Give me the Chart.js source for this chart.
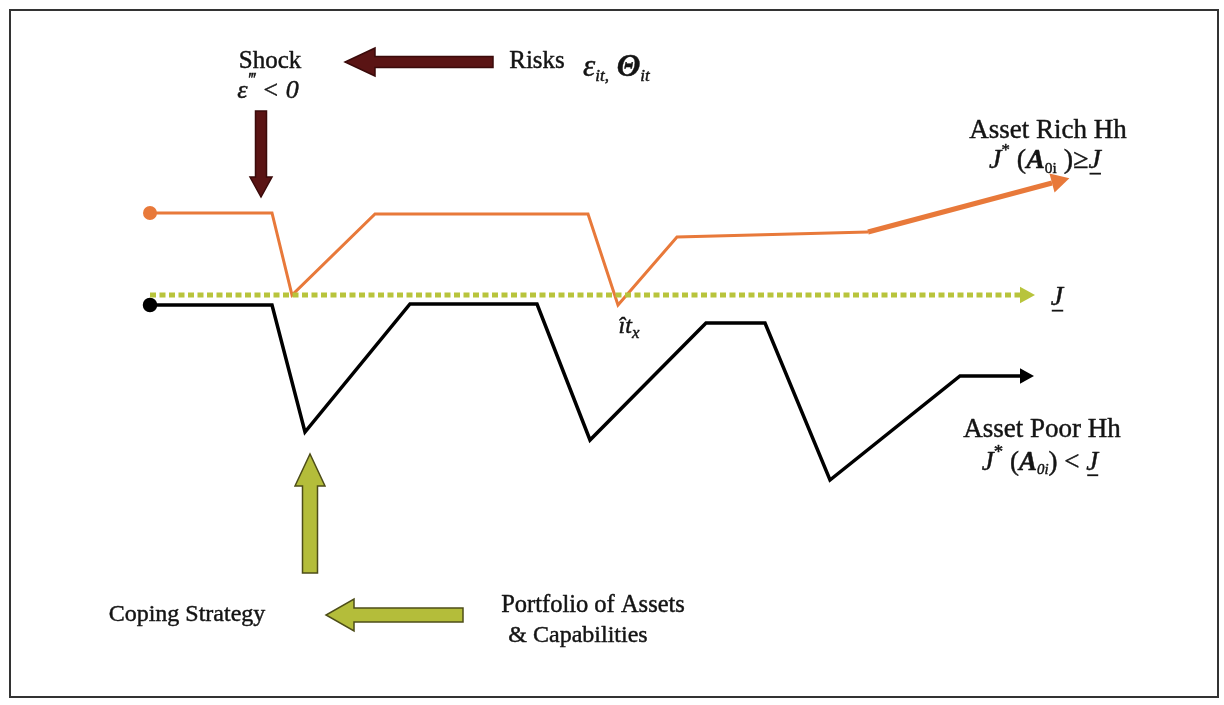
<!DOCTYPE html>
<html><head><meta charset="utf-8">
<script src="https://cdn.jsdelivr.net/npm/chart.js@4/dist/chart.umd.min.js"></script>
<style>html,body{margin:0;padding:0;background:#fff}#wrap{width:1224px;height:705px;position:relative}</style>
</head><body><div id="wrap"><canvas id="c"></canvas></div>
<script>
// Time (t) and welfare (w) values; threshold J at w = 0
const richTime = [0, 12.2, 14.2, 22.5, 43.8, 46.8, 52.7, 71.8];
const richWelfare = [8.2, 8.2, 0, 8.1, 8.1, -1.0, 5.8, 6.3];
const richTrendTime = [71.8, 90.2];
const richTrendWelfare = [6.3, 11.2];
const poorTime = [0, 12.2, 15.5, 26, 38.7, 44, 55.6, 61.5, 68, 81, 87];
const poorWelfare = [-1.0, -1.0, -13.7, -0.9, -0.9, -14.5, -2.8, -2.8, -18.5, -8.1, -8.1];
const thresholdTime = [0, 87];
const thresholdWelfare = [0, 0];

const pts = (xs, ys) => xs.map((x, i) => ({x, y: ys[i]}));

const MAROON = '#5a1414', OLIVE = '#b4bd3a', ORANGE = '#e8793a';
const blockArrows = [
  {from: [34.3, 23.3], to: [19.5, 23.3], fill: MAROON, edge: '#3a0a0a', body: 11, headW: 28, headL: 30},
  {from: [11.1, 18.4], to: [11.1, 9.8], fill: MAROON, edge: '#3a0a0a', body: 11, headW: 22, headL: 20},
  {from: [16, -27.8], to: [16, -15.9], fill: OLIVE, edge: '#4d4d18', body: 15, headW: 30, headL: 32},
  {from: [31.3, -32], to: [17.6, -32], fill: OLIVE, edge: '#4d4d18', body: 14, headW: 32, headL: 28}
];

const F = 'Liberation Serif, Times New Roman, serif';
const texts = [
  {at: [12.0, 23.4], size: 25, segs: [{t: 'Shock'}]},
  {at: [11.8, 20.4], size: 26, segs: [{t: 'ε', i: 1}, {t: '‴', i: 1, sup: 1, sc: 0.7}, {t: ' < 0', i: 1}]},
  {at: [38.7, 23.4], size: 25, segs: [{t: 'Risks'}]},
  {at: [43.3, 22.7], size: 31, align: 'left', segs: [{t: 'ε', i: 1}, {t: 'it,', i: 1, sub: 1, sc: 0.55}, {t: ' Θ', i: 1, b: 1}, {t: 'it', i: 1, sub: 1, sc: 0.55}]},
  {at: [89.8, 16.4], size: 27, segs: [{t: 'Asset Rich Hh'}]},
  {at: [89.5, 13.4], size: 28, segs: [{t: 'J', i: 1}, {t: '*', sup: 1, sc: 0.6}, {t: ' ('}, {t: 'A', i: 1, b: 1}, {t: '0i', sub: 1, sc: 0.55}, {t: ' )≥'}, {t: 'J', i: 1, u: 1}]},
  {at: [90.7, -0.3], size: 28, segs: [{t: 'J', i: 1, u: 1}]},
  {at: [47.9, -3.2], size: 24, segs: [{t: 'ît', i: 1}, {t: 'x', i: 1, sub: 1, sc: 0.7}]},
  {at: [89.2, -13.5], size: 27, segs: [{t: 'Asset Poor Hh'}]},
  {at: [89.0, -16.8], size: 27, segs: [{t: 'J', i: 1}, {t: '*', sup: 1, sc: 0.7}, {t: ' ('}, {t: 'A', i: 1, b: 1}, {t: '0i', sub: 1, i: 1, sc: 0.55}, {t: ') < '}, {t: 'J', i: 1, u: 1}]},
  {at: [3.7, -32.0], size: 24, segs: [{t: 'Coping Strategy'}]},
  {at: [44.3, -31.1], size: 24.5, segs: [{t: 'Portfolio of Assets'}]},
  {at: [42.8, -34.1], size: 24, segs: [{t: '& Capabilities'}]}
];

function fontOf(s, size) {
  const sz = size * (s.sc || 1);
  return (s.i ? 'italic ' : '') + (s.b ? 'bold ' : '') + sz + 'px ' + F;
}
function drawRich(ctx, x, y, segs, size, align) {
  const ws = segs.map(s => { ctx.font = fontOf(s, size); return ctx.measureText(s.t).width; });
  const total = ws.reduce((a, b) => a + b, 0);
  let cx = align === 'left' ? x : x - total / 2;
  segs.forEach((s, i) => {
    ctx.font = fontOf(s, size);
    const dy = s.sub ? size * 0.28 : s.sup ? -size * 0.38 : 0;
    ctx.fillText(s.t, cx, y + dy);
    ctx.strokeText(s.t, cx, y + dy);
    if (s.u) { ctx.fillRect(cx + 1, y + size * 0.42, ws[i] - 1, 1.8); }
    cx += ws[i];
  });
}
function drawBlockArrow(ctx, a, xs, ys) {
  const x1 = xs.getPixelForValue(a.from[0]), y1 = ys.getPixelForValue(a.from[1]);
  const x2 = xs.getPixelForValue(a.to[0]), y2 = ys.getPixelForValue(a.to[1]);
  const len = Math.hypot(x2 - x1, y2 - y1), ux = (x2 - x1) / len, uy = (y2 - y1) / len;
  const nx = -uy, ny = ux;
  const bx = x2 - ux * a.headL, by = y2 - uy * a.headL;
  const b = a.body / 2, h = a.headW / 2;
  ctx.beginPath();
  ctx.moveTo(x1 + nx * b, y1 + ny * b);
  ctx.lineTo(bx + nx * b, by + ny * b);
  ctx.lineTo(bx + nx * h, by + ny * h);
  ctx.lineTo(x2, y2);
  ctx.lineTo(bx - nx * h, by - ny * h);
  ctx.lineTo(bx - nx * b, by - ny * b);
  ctx.lineTo(x1 - nx * b, y1 - ny * b);
  ctx.closePath();
  ctx.fillStyle = a.fill; ctx.fill();
  ctx.lineWidth = 1.5; ctx.strokeStyle = a.edge; ctx.lineJoin = 'miter'; ctx.stroke();
}

const diagramPlugin = {
  id: 'diagram',
  afterDatasetsDraw(chart) {
    const ctx = chart.ctx, xs = chart.scales.x, ys = chart.scales.y;
    ctx.save();
    chart.data.datasets.forEach((ds, di) => {
      if (!ds.arrowHead) return;
      const meta = chart.getDatasetMeta(di).data;
      const p = meta[meta.length - 1], q = meta[meta.length - 2];
      const len = Math.hypot(p.x - q.x, p.y - q.y), ux = (p.x - q.x) / len, uy = (p.y - q.y) / len;
      const L = ds.arrowHead, W = L * 0.55;
      ctx.beginPath();
      ctx.moveTo(p.x + ux * L, p.y + uy * L);
      ctx.lineTo(p.x - uy * W, p.y + ux * W);
      ctx.lineTo(p.x + uy * W, p.y - ux * W);
      ctx.closePath();
      ctx.fillStyle = ds.borderColor; ctx.fill();
    });
    blockArrows.forEach(a => drawBlockArrow(ctx, a, xs, ys));
    ctx.fillStyle = '#141414';
    ctx.strokeStyle = '#141414';
    ctx.lineWidth = 0.45;
    ctx.lineJoin = 'round';
    ctx.textBaseline = 'middle';
    ctx.textAlign = 'left';
    texts.forEach(tx => drawRich(ctx, xs.getPixelForValue(tx.at[0]), ys.getPixelForValue(tx.at[1]), tx.segs, tx.size, tx.align));
    ctx.strokeStyle = '#333'; ctx.lineWidth = 2; ctx.lineJoin = 'miter';
    ctx.strokeRect(10, 10, 1208, 687);
    ctx.restore();
  }
};

new Chart(document.getElementById('c'), {
  type: 'scatter',
  data: {
    datasets: [
      {label: 'Threshold J', data: pts(thresholdTime, thresholdWelfare), showLine: true, borderColor: '#b8c43c',
        borderWidth: 5, borderDash: [6, 3.5], borderCapStyle: 'butt', pointRadius: 0, arrowHead: 15},
      {label: 'Asset Rich Hh', data: pts(richTime, richWelfare), showLine: true, borderColor: ORANGE, backgroundColor: ORANGE,
        borderWidth: 3, pointRadius: c => c.dataIndex === 0 ? 5.5 : 0, borderJoinStyle: 'miter'},
      {label: 'Asset Rich trend', data: pts(richTrendTime, richTrendWelfare), showLine: true, borderColor: ORANGE,
        borderWidth: 5, pointRadius: 0, arrowHead: 18},
      {label: 'Asset Poor Hh', data: pts(poorTime, poorWelfare), showLine: true, borderColor: '#000', backgroundColor: '#000',
        borderWidth: 3.5, pointRadius: c => c.dataIndex === 0 ? 5.5 : 0, borderJoinStyle: 'miter', arrowHead: 14}
    ]
  },
  options: {
    responsive: true, maintainAspectRatio: false, animation: false,
    layout: {padding: 0, autoPadding: false},
    plugins: {legend: {display: false}, tooltip: {enabled: false}},
    scales: {
      x: {type: 'linear', min: -15, max: 107.4, display: false},
      y: {type: 'linear', min: -41, max: 29.5, display: false}
    },
    elements: {line: {tension: 0}}
  },
  plugins: [diagramPlugin]
});
</script>
</body></html>
